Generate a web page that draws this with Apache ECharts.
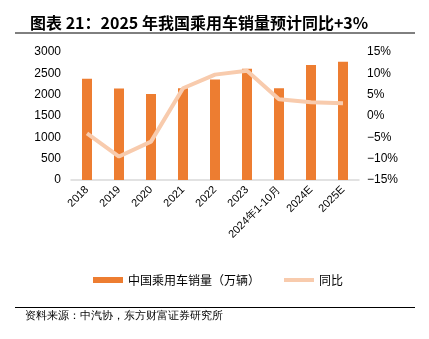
<!DOCTYPE html>
<html><head><meta charset="utf-8">
<script src="https://cdn.jsdelivr.net/npm/echarts@6/dist/echarts.min.js"></script>
<style>html,body{margin:0;padding:0;background:#fff}#c{width:429px;height:339px}</style>
</head><body><div id="c"></div>
<script>
const categories = ['2018','2019','2020','2021','2022','2023','2024年1-10月','2024E','2025E'];
const sales = [2371, 2144, 2018, 2148, 2356, 2606, 2149, 2695, 2773];
const yoy = [-4.1, -9.5, -6.0, 6.5, 9.7, 10.6, 3.9, 3.2, 3.0];
const leftTicks = [0, 3000, 500];
const rightTicks = [-15, 15, 5];
const chart = echarts.init(document.getElementById('c'));
chart.setOption({
  animation: false,
  textStyle: {fontFamily: 'Liberation Sans, Arial, sans-serif'},
  title: {
    text: '图表 21：2025 年我国乘用车销量预计同比+3%',
    left: 25, top: 10,
    textStyle: {fontSize: 16, fontWeight: 'bold', color: '#000', fontFamily: '"Noto Sans CJK SC", sans-serif'}
  },
  graphic: [
    {type: 'line', shape: {x1: 15, y1: 33, x2: 415, y2: 33}, style: {stroke: '#000', lineWidth: 1}},
    {type: 'line', shape: {x1: 15, y1: 307.5, x2: 415, y2: 307.5}, style: {stroke: '#000', lineWidth: 1}},
    {type: 'text', left: 25, top: 310, style: {text: '资料来源：中汽协，东方财富证券研究所', fontSize: 11, fill: '#000', font: '11px "Noto Sans CJK SC", sans-serif'}}
  ],
  legend: {
    top: 269, left: 88,
    itemWidth: 30, itemHeight: 6, itemGap: 24,
    textStyle: {fontSize: 12, color: '#000', fontFamily: '"Noto Sans CJK SC", sans-serif'},
    data: [
      {name: '中国乘用车销量（万辆）', icon: 'rect'},
      {name: '同比', icon: 'path://M0,0L30,0L30,4L0,4Z'}
    ]
  },
  grid: {left: 71, right: 70, top: 52, bottom: 159},
  xAxis: {
    type: 'category', data: categories,
    axisLine: {lineStyle: {color: '#d9d9d9', width: 1.5}},
    axisTick: {show: false},
    axisLabel: {rotate: 45, fontSize: 11, color: '#000', margin: 8, interval: 0}
  },
  yAxis: [
    {type: 'value', min: leftTicks[0], max: leftTicks[1], interval: leftTicks[2],
     splitLine: {show: false}, axisLine: {show: false}, axisTick: {show: false},
     axisLabel: {fontSize: 12, color: '#000', margin: 10, formatter: v => String(v)}},
    {type: 'value', min: rightTicks[0], max: rightTicks[1], interval: rightTicks[2],
     splitLine: {show: false}, axisLine: {show: false}, axisTick: {show: false},
     axisLabel: {fontSize: 12, color: '#000', margin: 8, formatter: v => (v < 0 ? '−' + (-v) : v) + '%'}}
  ],
  series: [
    {name: '中国乘用车销量（万辆）', type: 'bar', data: sales, barWidth: 10,
     itemStyle: {color: '#ED7D31'}},
    {name: '同比', type: 'line', yAxisIndex: 1, data: yoy, symbol: 'none',
     lineStyle: {color: '#F8CBAD', width: 4}, itemStyle: {color: '#F8CBAD'}}
  ]
});
</script></body></html>
